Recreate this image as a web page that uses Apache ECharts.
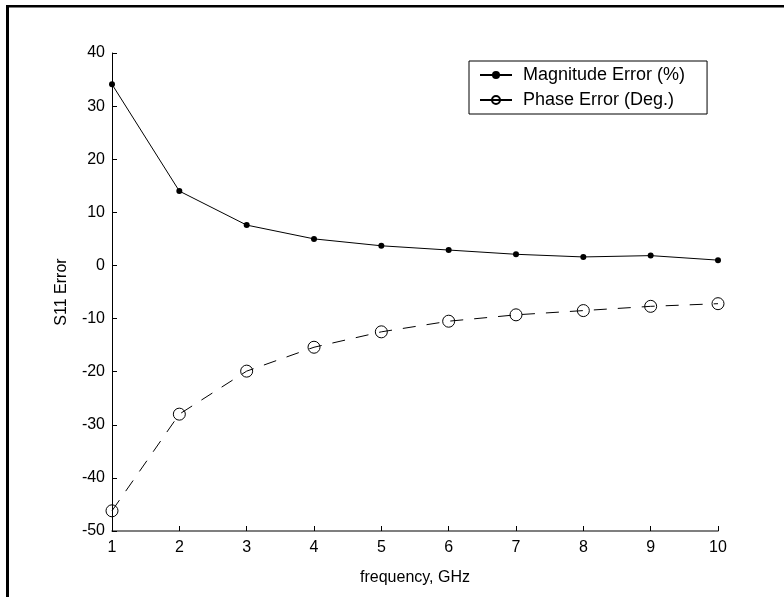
<!DOCTYPE html>
<html>
<head>
<meta charset="utf-8">
<script src="https://cdn.jsdelivr.net/npm/echarts@6/dist/echarts.min.js"></script>
<style>
html,body{margin:0;padding:0;background:#fff;}
#chart{width:784px;height:597px;}
</style>
</head>
<body>
<div id="chart"></div>
<script>
var frequencies = [1, 2, 3, 4, 5, 6, 7, 8, 9, 10];
var magnitudeError = [34.1, 14.0, 7.6, 5.0, 3.7, 2.9, 2.1, 1.6, 1.85, 1.0];
var phaseError = [-46.2, -28.0, -19.9, -15.4, -12.5, -10.5, -9.3, -8.5, -7.7, -7.2];
var seriesNames = ['Magnitude Error (%)', 'Phase Error (Deg.)'];
var xTicks = [1, 2, 3, 4, 5, 6, 7, 8, 9, 10];
var yTicks = [-50, -40, -30, -20, -10, 0, 10, 20, 30, 40];
var xTitle = 'frequency, GHz';
var yTitle = 'S11 Error';

function pairs(xs, ys) { return xs.map(function (x, i) { return [x, ys[i]]; }); }

var FONT = 'Liberation Sans, Arial, sans-serif';
var chart = echarts.init(document.getElementById('chart'), null, {renderer: 'canvas'});
chart.setOption({
  backgroundColor: '#fff',
  animation: false,
  textStyle: {fontFamily: FONT},
  graphic: [
    {type: 'rect', shape: {x: 6, y: 5, width: 778, height: 2.5}, style: {fill: '#000'}},
    {type: 'rect', shape: {x: 6, y: 5, width: 3, height: 592}, style: {fill: '#000'}}
  ],
  grid: {left: 112, right: 66, top: 53, bottom: 66, containLabel: false},
  legend: {
    orient: 'vertical',
    left: 469,
    top: 61,
    data: seriesNames,
    backgroundColor: '#fff',
    borderColor: '#000',
    borderWidth: 1,
    borderRadius: 0,
    padding: [5, 22, 5, 10],
    itemGap: 7,
    itemWidth: 32,
    itemHeight: 10,
    lineStyle: {type: 'solid'},
    textStyle: {fontSize: 18, color: '#000', fontFamily: FONT, padding: [0, 0, 0, 6]}
  },
  xAxis: {
    type: 'value',
    min: xTicks[0],
    max: xTicks[xTicks.length - 1],
    interval: 1,
    name: xTitle,
    nameLocation: 'middle',
    nameGap: 39,
    nameTextStyle: {fontSize: 16, color: '#000', fontFamily: FONT},
    axisLine: {show: true, onZero: false, lineStyle: {color: '#555', width: 1.5}},
    axisTick: {show: true, inside: true, length: 5, lineStyle: {color: '#000'}},
    axisLabel: {fontSize: 16, color: '#000', margin: 9, fontFamily: FONT},
    splitLine: {show: false}
  },
  yAxis: {
    type: 'value',
    min: yTicks[0],
    max: yTicks[yTicks.length - 1],
    interval: 10,
    name: yTitle,
    nameLocation: 'middle',
    nameGap: 42,
    nameTextStyle: {fontSize: 16, color: '#000', fontFamily: FONT},
    axisLine: {show: true, onZero: false, lineStyle: {color: '#000', width: 1}},
    axisTick: {show: true, inside: true, length: 5, lineStyle: {color: '#000'}},
    axisLabel: {fontSize: 16, color: '#000', margin: 7, fontFamily: FONT},
    splitLine: {show: false}
  },
  series: [
    {
      name: seriesNames[0],
      type: 'line',
      data: pairs(frequencies, magnitudeError),
      symbol: 'circle',
      symbolSize: 6,
      showAllSymbol: true,
      lineStyle: {color: '#000', width: 1},
      itemStyle: {color: '#000', borderColor: '#000', borderWidth: 0}
    },
    {
      name: seriesNames[1],
      type: 'line',
      data: pairs(frequencies, phaseError),
      symbol: 'circle',
      symbolSize: 12,
      showAllSymbol: true,
      lineStyle: {color: '#000', width: 1, type: [13, 11]},
      itemStyle: {color: 'rgba(0,0,0,0)', borderColor: '#000', borderWidth: 1}
    }
  ]
});
</script>
</body>
</html>
